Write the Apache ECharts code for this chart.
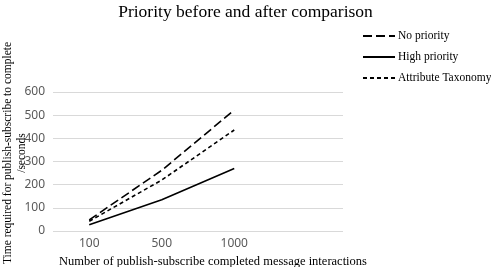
<!DOCTYPE html>
<html>
<head>
<meta charset="utf-8">
<script src="https://cdn.jsdelivr.net/npm/echarts@6/dist/echarts.min.js"></script>
<style>
  html, body { margin: 0; padding: 0; background: #fff; }
  #chart { width: 491px; height: 267px; }
</style>
</head>
<body>
<div id="chart"></div>
<script>
// categories (last slot is empty in the original chart)
const categories = ['100', '500', '1000', ''];
const noPriority = [48, 262, 522];
const highPriority = [27, 135, 270];
const attributeTaxonomy = [42, 220, 436];
const yTicks = { min: 0, max: 600, interval: 100 };
const yAxisTitle = 'Time required for publish-subscribe to complete\n/seconds';

const serif = '"Liberation Serif", "Times New Roman", serif';
const sans = '"Noto Sans", "DejaVu Sans", sans-serif';

const chart = echarts.init(document.getElementById('chart'));

const lineSeries = (name, data, dash) => ({
  name: name,
  type: 'line',
  data: data,
  symbol: 'none',
  lineStyle: { color: '#000', width: 1.6, type: dash },
  itemStyle: { color: '#000' },
});

chart.setOption({
  animation: false,
  title: {
    text: 'Priority before and after comparison',
    left: 'center',
    top: -2,
    textStyle: { fontFamily: serif, fontWeight: 'normal', fontSize: 17.5, color: '#000' },
  },
  legend: {
    orient: 'vertical',
    left: 357,
    top: 25,
    itemWidth: 32,
    itemHeight: 12,
    itemGap: 9,
    itemStyle: { opacity: 0 },
    textStyle: { fontFamily: serif, fontSize: 11.5, color: '#000', padding: [0, 0, 0, -2] },
    data: ['No priority', 'High priority', 'Attribute Taxonomy'],
  },
  // y axis title drawn as rotated text (axis name gets pushed off-canvas)
  graphic: [
    {
      type: 'text',
      x: 15,
      y: 153,
      rotation: Math.PI / 2,
      style: {
        text: yAxisTitle,
        fontFamily: serif,
        fontSize: 11.5,
        lineHeight: 14,
        fill: '#000',
        align: 'center',
        verticalAlign: 'middle',
      },
    },
  ],
  grid: { left: 53, right: 148, top: 92, bottom: 36, containLabel: false, outerBoundsMode: 'none' },
  xAxis: {
    type: 'category',
    data: categories,
    boundaryGap: true,
    axisLine: { show: false },
    axisTick: { show: false },
    axisLabel: { fontFamily: sans, fontSize: 12, color: '#595959', margin: 7 },
    name: 'Number of publish-subscribe completed message interactions',
    nameLocation: 'middle',
    nameGap: 24,
    nameTextStyle: { fontFamily: serif, fontSize: 12.5, color: '#000', padding: [0, 0, 0, 30] },
  },
  yAxis: {
    type: 'value',
    min: yTicks.min,
    max: yTicks.max,
    interval: yTicks.interval,
    axisLine: { show: false },
    axisTick: { show: false },
    splitLine: { lineStyle: { color: '#d9d9d9', width: 1 } },
    axisLabel: { fontFamily: sans, fontSize: 12, color: '#595959', margin: 8 },
  },
  series: [
    lineSeries('No priority', noPriority, [9, 4]),
    lineSeries('High priority', highPriority, 'solid'),
    lineSeries('Attribute Taxonomy', attributeTaxonomy, [4, 3]),
  ],
});
</script>
</body>
</html>
